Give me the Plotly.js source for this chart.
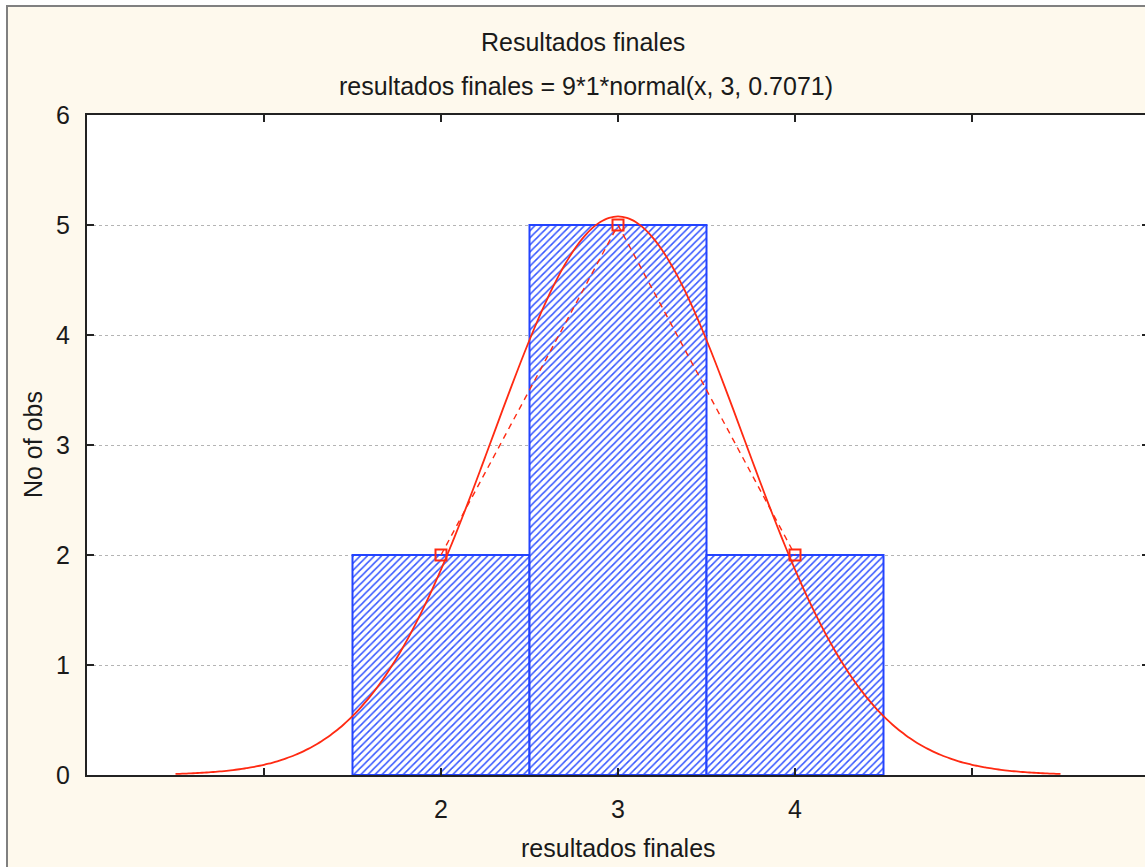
<!DOCTYPE html>
<html>
<head>
<meta charset="utf-8">
<script src="https://cdn.plot.ly/plotly-3.0.1.min.js"></script>
<style>
  html, body { margin: 0; padding: 0; background: #ffffff; overflow: hidden; }
  #frame {
    position: absolute; left: 6px; top: 5px;
    width: 1160px; height: 870px;
    border-top: 2px solid #808080; border-left: 2px solid #808080;
    background: #fef9ed;
  }
  #chart { width: 1151px; height: 860px; }
</style>
</head>
<body>
<div id="frame"><div id="chart"></div></div>
<script>
// Histogram counts per score bin
const binCenters = [2, 3, 4];
const counts = [2, 5, 2];
const binWidth = 1;

// Expected-count normal fit: 9*1*normal(x, 3, 0.7071)
const nObs = 9;
const fitMean = 3;
const fitSd = 0.7071;
const fitRange = [0.5, 5.5];

// Axis ticks
const xTickVals = [1, 2, 3, 4, 5];
const xTickText = ['', '2', '3', '4', ''];
const yTickVals = [0, 1, 2, 3, 4, 5, 6];

const chartTitle = 'Resultados finales';
const chartSubtitle = 'resultados finales = 9*1*normal(x, 3, 0.7071)';
const xLabel = 'resultados finales';
const yLabel = 'No of obs';

function normalPdf(x, m, s) {
  return Math.exp(-0.5 * Math.pow((x - m) / s, 2)) / (s * Math.sqrt(2 * Math.PI));
}
const curveX = [];
const curveY = [];
for (let i = 0; i <= 200; i++) {
  const x = fitRange[0] + (fitRange[1] - fitRange[0]) * i / 200;
  curveX.push(x);
  curveY.push(nObs * binWidth * normalPdf(x, fitMean, fitSd));
}

const FONT = 'Liberation Sans, Arial, sans-serif';
const FS = 25;
const TXT = '#1a1a1a';
const RED = '#ff2a12';
const BLUE = '#2343ff';

const traces = [
  {
    type: 'bar', x: binCenters, y: counts, width: binWidth,
    marker: {
      color: '#ffffff',
      line: { color: BLUE, width: 2 },
      pattern: { shape: '/', fgcolor: '#3556ff', bgcolor: '#ffffff', size: 5, solidity: 0.3 }
    },
    hoverinfo: 'x+y'
  },
  {
    type: 'scatter', mode: 'lines', x: curveX, y: curveY,
    line: { color: RED, width: 1.8, shape: 'spline' }
  },
  {
    type: 'scatter', mode: 'lines+markers', x: binCenters, y: counts,
    line: { color: RED, width: 1.4, dash: '6px,5px' },
    marker: { symbol: 'square-open', size: 11, color: RED, line: { width: 2 } },
    cliponaxis: false
  }
];

const layout = {
  width: 1151, height: 860,
  margin: { l: 79, r: 10, t: 108, b: 92 },
  paper_bgcolor: '#fef9ed',
  plot_bgcolor: '#ffffff',
  showlegend: false,
  bargap: 0,
  font: { family: FONT, size: FS, color: TXT },
  xaxis: {
    range: [0, 6], tickvals: xTickVals, ticktext: xTickText,
    ticks: 'inside', ticklen: 7, tickwidth: 2, tickcolor: '#222222',
    showline: true, linecolor: '#222222', linewidth: 2, mirror: 'allticks',
    showgrid: false, zeroline: false, ticklabelstandoff: 11,
    tickfont: { family: FONT, size: FS, color: TXT }
  },
  yaxis: {
    range: [0, 6], tickvals: yTickVals,
    ticks: 'inside', ticklen: 7, tickwidth: 2, tickcolor: '#222222',
    showline: true, linecolor: '#222222', linewidth: 2, mirror: 'allticks',
    showgrid: true, gridcolor: '#b4b4b4', gridwidth: 1, griddash: 'dot',
    zeroline: false, ticklabelstandoff: 10,
    tickfont: { family: FONT, size: FS, color: TXT }
  },
  annotations: [
    { text: chartTitle, xref: 'paper', yref: 'paper', x: 0.467, y: 1.1106,
      xanchor: 'center', yanchor: 'middle', showarrow: false,
      font: { family: FONT, size: FS, color: TXT } },
    { text: chartSubtitle, xref: 'paper', yref: 'paper', x: 0.4695, y: 1.0439,
      xanchor: 'center', yanchor: 'middle', showarrow: false,
      font: { family: FONT, size: FS, color: TXT } },
    { text: xLabel, xref: 'paper', yref: 'paper', x: 0.5, y: -0.1106,
      xanchor: 'center', yanchor: 'middle', showarrow: false,
      font: { family: FONT, size: FS, color: TXT } },
    { text: yLabel, xref: 'paper', yref: 'paper', x: -0.0508, y: 0.5,
      xanchor: 'center', yanchor: 'middle', textangle: -90, showarrow: false,
      font: { family: FONT, size: FS, color: TXT } }
  ]
};

Plotly.newPlot('chart', traces, layout, { displayModeBar: false, staticPlot: true });
</script>
</body>
</html>
